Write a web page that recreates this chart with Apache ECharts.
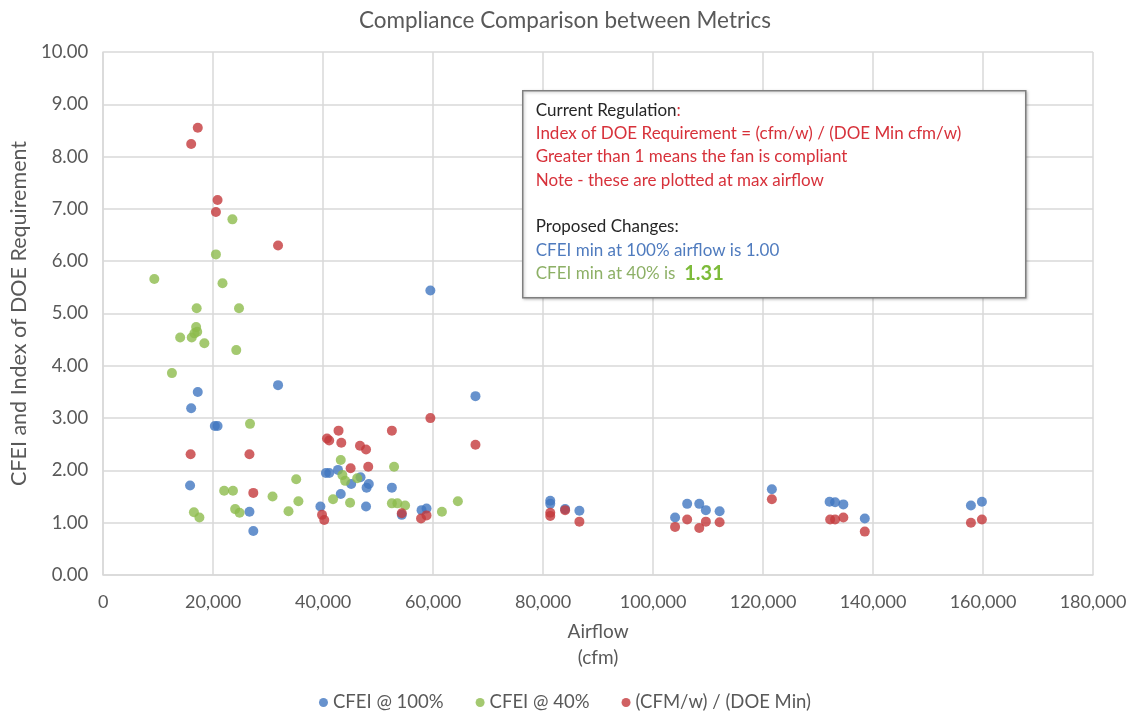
<!DOCTYPE html>
<html>
<head>
<meta charset="utf-8">
<title>Compliance Comparison between Metrics</title>
<script src="https://cdn.jsdelivr.net/npm/echarts@6/dist/echarts.min.js"></script>
<style>
  html, body { margin: 0; padding: 0; background: #fff; }
  #myChart { width: 1130px; height: 717px; }
</style>
</head>
<body>
<div id="myChart"></div>
<script>
// airflow (cfm), index value
const cfei100 = [
  [15800, 1.71], [16000, 3.19], [17200, 3.50], [20300, 2.85], [20800, 2.85],
  [26600, 1.21], [27300, 0.84], [31800, 3.63], [39500, 1.31], [40500, 1.95],
  [41100, 1.95], [42700, 2.01], [43200, 1.55], [45100, 1.74], [46800, 1.87],
  [47900, 1.67], [48300, 1.74], [47800, 1.31], [52500, 1.67], [54300, 1.15],
  [57900, 1.24], [58800, 1.27], [59500, 5.44], [67700, 3.42], [81300, 1.42],
  [81300, 1.36], [84000, 1.26], [86600, 1.23], [104000, 1.10], [106200, 1.36],
  [108400, 1.36], [109600, 1.24], [112100, 1.22], [121600, 1.64], [132100, 1.40],
  [133100, 1.39], [134600, 1.35], [138500, 1.08], [157800, 1.33], [159800, 1.40]
]
const cfei40 = [
  [9300, 5.66], [12500, 3.86], [14000, 4.54], [16100, 4.54], [16600, 4.62],
  [17100, 4.65], [16900, 4.74], [17000, 5.10], [18400, 4.43], [16500, 1.20],
  [17500, 1.10], [20500, 6.13], [21700, 5.58], [22000, 1.61], [23500, 6.80],
  [23600, 1.61], [24000, 1.26], [24200, 4.30], [24700, 5.10], [24800, 1.19],
  [26700, 2.89], [30800, 1.50], [33700, 1.22], [35100, 1.83], [35500, 1.41],
  [41800, 1.45], [43200, 2.20], [43500, 1.91], [44000, 1.80], [44900, 1.38],
  [46200, 1.85], [52500, 1.37], [52900, 2.07], [53500, 1.37], [54900, 1.33],
  [61600, 1.21], [64500, 1.41]
]
const doeIndex = [
  [16000, 8.24], [17200, 8.55], [20800, 7.17], [20500, 6.94], [31800, 6.30],
  [15900, 2.31], [26600, 2.31], [27300, 1.57], [39800, 1.15], [40200, 1.05],
  [40700, 2.61], [41100, 2.57], [42800, 2.76], [43300, 2.53], [45000, 2.04],
  [46700, 2.47], [47800, 2.40], [48200, 2.07], [52500, 2.76], [54300, 1.18],
  [57800, 1.08], [58800, 1.14], [59500, 3.00], [67700, 2.49], [81300, 1.19],
  [81300, 1.13], [84000, 1.24], [86600, 1.02], [104000, 0.92], [106200, 1.06],
  [108400, 0.90], [109600, 1.02], [112100, 1.01], [121600, 1.45], [132200, 1.06],
  [133100, 1.06], [134600, 1.10], [138500, 0.83], [157800, 1.00], [159800, 1.06]
]
const seriesNames = ['CFEI @ 100%', 'CFEI @ 40%', '(CFM/w) / (DOE Min)']

const noteText = [
  '{dark|Current Regulation}{red|:}',
  '{red|Index of DOE Requirement = (cfm/w) / (DOE Min cfm/w)}',
  '{red|Greater than 1 means the fan is compliant}',
  '{red|Note - these are plotted at max airflow}',
  '',
  '{dark|Proposed Changes:}',
  '{blue|CFEI min at 100% airflow is 1.00}',
  '{green|CFEI min at 40% is  }{big|1.31}'
].join('\n')

const font = 'Lato'
const boxSize = 17
const myChart = echarts.init(document.getElementById('myChart'))
myChart.setOption({
  animation: false,
  color: ['#4177C1', '#8DBB4C', '#C43A3C'],
  textStyle: { fontFamily: font },
  title: {
    text: 'Compliance Comparison between Metrics',
    left: 'center',
    top: 4,
    textStyle: { fontSize: 22.5, fontWeight: 'normal', color: '#595959', fontFamily: font }
  },
  legend: {
    data: seriesNames,
    bottom: 0,
    left: 'center',
    icon: 'circle',
    itemWidth: 9,
    itemHeight: 9,
    itemGap: 32,
    textStyle: { fontSize: 18.5, color: '#595959' }
  },
  grid: {
    left: 103,
    right: 37,
    top: 52,
    bottom: 142
  },
  xAxis: {
    type: 'value',
    min: 0,
    max: 180000,
    interval: 20000,
    name: 'Airflow\n(cfm)',
    nameLocation: 'middle',
    nameGap: 44,
    nameTextStyle: { fontSize: 19, color: '#595959', lineHeight: 26 },
    axisLine: { show: true, lineStyle: { color: '#d9d9d9', width: 1.5 } },
    axisTick: { show: false },
    axisLabel: {
      fontSize: 18,
      color: '#595959',
      margin: 18,
      formatter: v => v.toLocaleString('en-US')
    },
    splitLine: { show: true, lineStyle: { color: '#d9d9d9', width: 1.5 } }
  },
  yAxis: {
    type: 'value',
    min: 0,
    max: 10,
    interval: 1,
    name: 'CFEI and Index of DOE Requirement',
    nameLocation: 'middle',
    nameGap: 70,
    nameTextStyle: { fontSize: 21.5, color: '#595959' },
    axisLine: { show: true, lineStyle: { color: '#d9d9d9', width: 1.5 } },
    axisTick: { show: false },
    axisLabel: {
      fontSize: 18.5,
      color: '#595959',
      margin: 15,
      formatter: v => v.toFixed(2)
    },
    splitLine: { show: true, lineStyle: { color: '#d9d9d9', width: 1.5 } }
  },
  graphic: [
    {
      type: 'group',
      left: 522,
      top: 90,
      z: 100,
      children: [
        {
          type: 'rect',
          z: 100,
          shape: { x: 0, y: 0, width: 503, height: 207 },
          style: {
            fill: '#fff',
            stroke: '#7f7f7f',
            lineWidth: 1.5,
            shadowBlur: 3,
            shadowColor: 'rgba(0,0,0,0.25)',
            shadowOffsetX: 1,
            shadowOffsetY: 1
          }
        },
        {
          type: 'text',
          z: 101,
          x: 13,
          y: 8,
          style: {
            text: noteText,
            font: boxSize + 'px ' + font,
            lineHeight: 23.3,
            rich: {
              dark: { fontSize: boxSize, fill: '#262626', lineHeight: 23.3, fontFamily: font },
              red: { fontSize: boxSize, fill: '#D7313A', lineHeight: 23.3, fontFamily: font },
              blue: { fontSize: boxSize, fill: '#4F7BBE', lineHeight: 23.3, fontFamily: font },
              green: { fontSize: boxSize, fill: '#8DB066', lineHeight: 23.3, fontFamily: font },
              big: { fontSize: 20, fontWeight: 'bold', fill: '#7DBB3A', lineHeight: 23.3, fontFamily: font }
            }
          }
        }
      ]
    }
  ],
  series: [
    {
      name: seriesNames[0],
      type: 'scatter',
      symbolSize: 10,
      data: cfei100
    },
    {
      name: seriesNames[1],
      type: 'scatter',
      symbolSize: 10,
      data: cfei40
    },
    {
      name: seriesNames[2],
      type: 'scatter',
      symbolSize: 10,
      data: doeIndex
    }
  ]
})
</script>
</body>
</html>
